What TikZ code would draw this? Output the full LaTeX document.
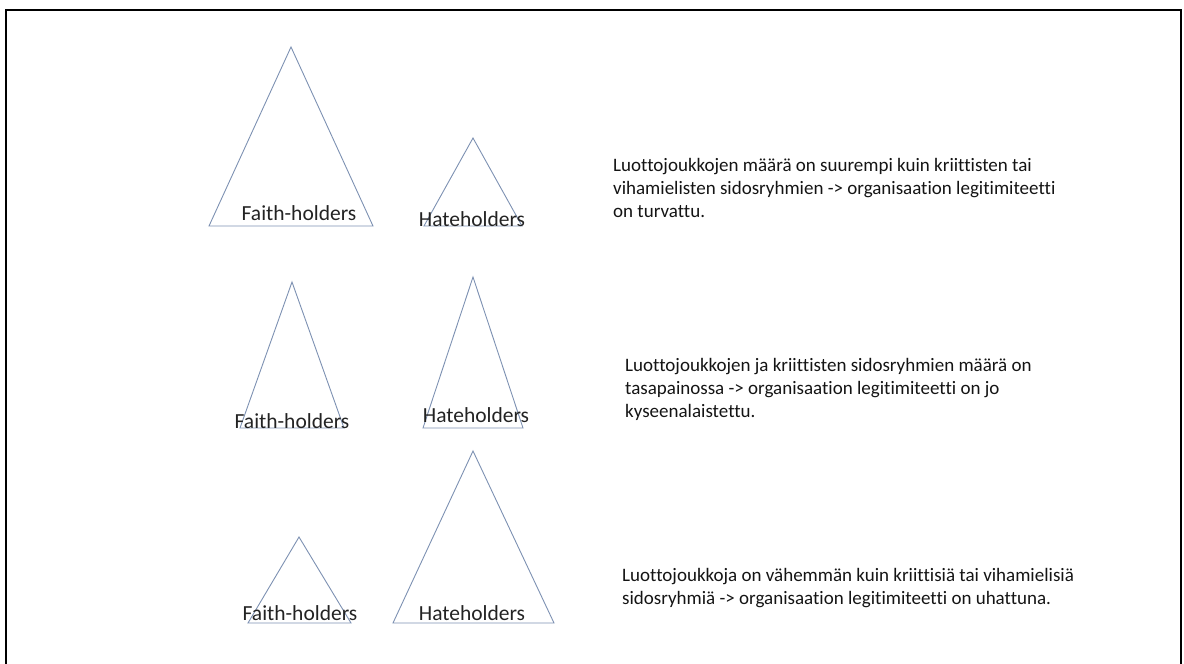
\documentclass[tikz,border=0pt]{standalone}
\usepackage{fontspec}
\setmainfont{Carlito}[Ligatures=NoCommon]
\begin{document}
\begin{tikzpicture}[x=1pt,y=-1pt,
  tri/.style={draw={rgb,255:red,125;green,145;blue,178}, line width=0.9pt, line join=miter},
  lbl/.style={inner sep=0pt, font=\fontsize{21.5}{24}\selectfont, text={rgb,255:red,35;green,35;blue,35}},
  para/.style={inner sep=0pt, anchor=north west, align=left,
    font=\fontsize{19}{23}\selectfont, text={rgb,255:red,20;green,20;blue,20}}]
\useasboundingbox (0,0) rectangle (1184,664);
% frame (open at the bottom)
\draw[line width=2pt] (5.5,672) -- (5.5,10) -- (1181,10) -- (1181,672);

% row 1: faith-holders outnumber hateholders
\draw[tri] (291,47) -- (373,226) -- (209,226) -- cycle;
\draw[tri] (473,138) -- (522,226) -- (424,226) -- cycle;
\node[lbl] (f1) at (299,213) {Faith-holders};
\node[lbl] (h1) at (472,219) {Hateholders};
\node[para] (t1) at (613,158) {Luottojoukkojen määrä on suurempi kuin kriittisten tai\\vihamielisten sidosryhmien -> organisaation legitimiteetti\\on turvattu.};

% row 2: balance
\draw[tri] (292,282) -- (344,428) -- (240,428) -- cycle;
\draw[tri] (473,277) -- (523,428) -- (423,428) -- cycle;
\node[lbl] (f2) at (292,421) {Faith-holders};
\node[lbl] (h2) at (476,415) {Hateholders};
\node[para] (t2) at (625,358) {Luottojoukkojen ja kriittisten sidosryhmien määrä on\\tasapainossa -> organisaation legitimiteetti on jo\\kyseenalaistettu.};

% row 3: hateholders outnumber faith-holders
\draw[tri] (299,537) -- (351,623) -- (248,623) -- cycle;
\draw[tri] (473,451) -- (554,623) -- (393,623) -- cycle;
\node[lbl] (f3) at (300,613) {Faith-holders};
\node[lbl] (h3) at (472,613) {Hateholders};
\node[para] (t3) at (622,568) {Luottojoukkoja on vähemmän kuin kriittisiä tai vihamielisiä\\sidosryhmiä -> organisaation legitimiteetti on uhattuna.};
\end{tikzpicture}
\end{document}
